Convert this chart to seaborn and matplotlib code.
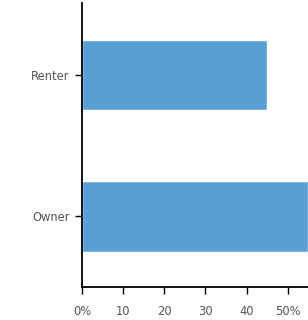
import matplotlib
matplotlib.use("Agg")
import matplotlib.pyplot as plt
import seaborn as sns
import pandas as pd

categories = ["Renter", "Owner"]
values = [45, 55]
tick_values = [0, 10, 20, 30, 40, 50]
tick_labels = ["0%", "10", "20", "30", "40", "50%"]

df = pd.DataFrame({"tenure": categories, "pct": values})

sns.set_style("white")
plt.rcParams["font.family"] = ["DejaVu Sans"]

fig = plt.figure(figsize=(3.08, 3.2), dpi=100)
ax = fig.add_axes([82/308, 33/320, (308-82)/308, 284/320])
sns.barplot(data=df, x="pct", y="tenure", color="#58a0d3", width=0.5,
            saturation=1, ax=ax, order=categories)
ax.set_xlim(0, 54.9)
ax.set_ylim(1.5, -0.51)
ax.set_xticks(tick_values)
ax.set_xticklabels(tick_labels)
ax.set_xlabel("")
ax.set_ylabel("")
for s in ["top", "right"]:
    ax.spines[s].set_visible(False)
for s in ["left", "bottom"]:
    ax.spines[s].set_color("black")
    ax.spines[s].set_linewidth(1.3)
ax.tick_params(axis="both", which="both", direction="out", length=5, width=1,
               color="black", labelsize=8.3, labelcolor="#555555",
               left=True, bottom=True)
ax.tick_params(axis="x", pad=8)
ax.tick_params(axis="y", pad=4)
fig.savefig("out.png", dpi=100)
